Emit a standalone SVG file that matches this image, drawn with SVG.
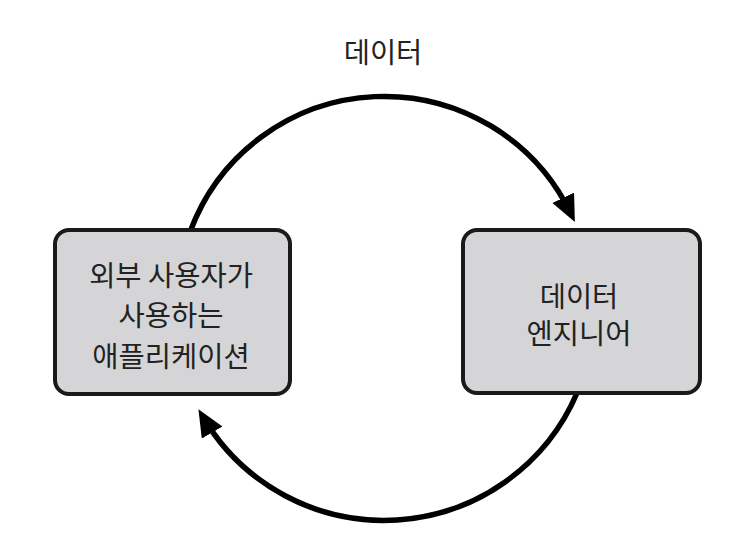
<svg xmlns="http://www.w3.org/2000/svg" width="739" height="542" viewBox="0 0 739 542">
<style>
.box{fill:#d5d5d7;stroke:#1a1a1a;stroke-width:4}
.t{font-family:"Noto Sans CJK KR","Noto Sans",sans-serif;font-size:28.5px;fill:#222;text-anchor:middle}
.arc{fill:none;stroke:#000;stroke-width:5.5}
</style>
<defs>
<marker id="ah" markerUnits="userSpaceOnUse" markerWidth="30" markerHeight="26" refX="18" refY="12" orient="auto">
<path d="M0,0 L27,12 L0,24 z" fill="#000"/>
</marker>
</defs>
<rect width="739" height="542" fill="#fff"/>
<text class="t" x="383" y="63">데이터</text>
<g id="connectors">
<path class="arc" d="M190,232 A207,207 0 0 1 571,214" marker-end="url(#ah)"/>
<path class="arc" d="M577,393 A210,210 0 0 1 203,417" marker-end="url(#ah)"/>
</g>
<g id="app">
<rect class="box" x="55" y="230" width="235" height="164" rx="14"/>
<text class="t" x="171" y="286">외부 사용자가</text>
<text class="t" x="171" y="326">사용하는</text>
<text class="t" x="171" y="367">애플리케이션</text>
</g>
<g id="engineer">
<rect class="box" x="463" y="230" width="237" height="163" rx="14"/>
<text class="t" x="579" y="307">데이터</text>
<text class="t" x="579" y="344">엔지니어</text>
</g>
</svg>
